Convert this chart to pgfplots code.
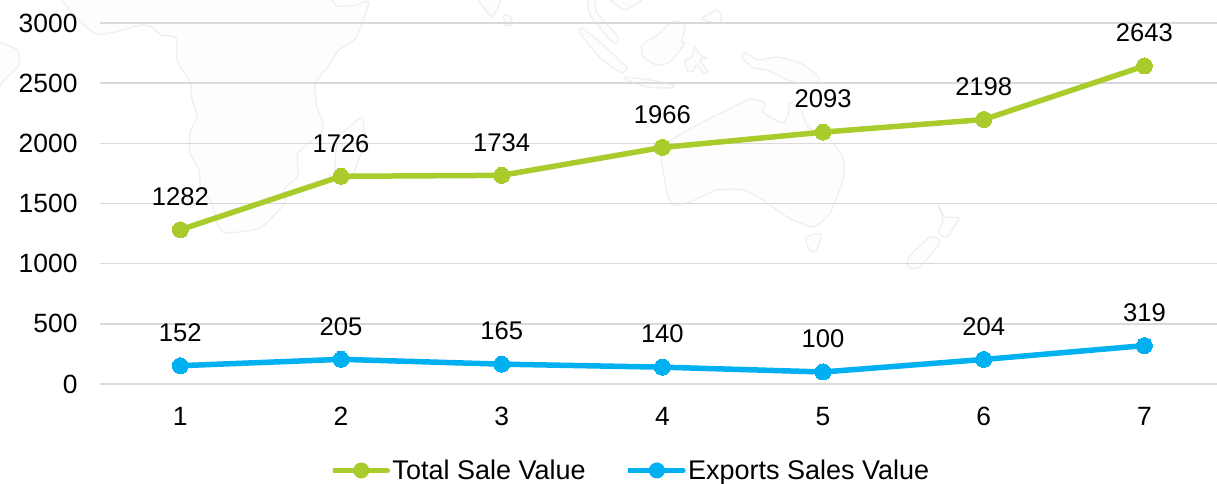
\documentclass[border=0pt]{standalone}
\usepackage{pgfplots}
\pgfplotsset{compat=1.18}
\usepackage{fontspec}
\setmainfont{Liberation Sans}
\definecolor{cgreen}{HTML}{A9CB2C}
\definecolor{cblue}{HTML}{00B0F0}
\definecolor{cgrid}{HTML}{D9D9D9}
\definecolor{mapfill}{HTML}{FDFDFD}
\definecolor{mapline}{HTML}{EFEFEF}
\newcommand{\mapland}[1]{\filldraw[fill=mapfill,draw=mapline,line width=1.3pt,line join=round] plot[smooth cycle,tension=0.35] coordinates {#1};}
\newcommand{\mapopen}[1]{\filldraw[fill=mapfill,draw=mapline,line width=1.3pt,line join=round] plot[smooth,tension=0.35] coordinates {#1};}
\begin{document}
\begin{tikzpicture}[x=1pt,y=1pt]
\path[use as bounding box] (0,0) rectangle (1217,483);
\begin{scope}[yscale=-1,yshift=-483pt]
\clip (0,0) rectangle (1217,483);
\mapopen{(61,0)(82,23)(96,34)(115,32)(142,25)(153,28)(161,35)(176,38)(177,61)(190,82)(192,99)(197,117)(190,132)(190,153)(199,170)(201,191)(211,201)(218,226)(226,233)(260,228)(285,203)(285,188)(298,176)(298,153)(320,134)(323,124)(317,107)(315,84)(329,65)(339,50)(356,38)(369,2)(356,5)(337,6)(333,0)}
\mapland{(362,118)(364,142)(354,172)(342,182)(335,178)(337,140)(346,130)}
\mapopen{(0,42)(17,50)(19,65)(4,80)(0,86)}
\mapopen{(478,0)(492,17)(501,0)}
\mapland{(504,15)(511,17)(512,25)(505,25)}
\mapland{(582,28)(600,42)(627,68)(620,72)(600,58)(580,33)}
\mapopen{(595,0)(597,13)(617,35)(617,43)(610,40)(590,15)(588,0)}
\mapopen{(610,0)(625,10)(642,0)}
\mapland{(625,77)(650,80)(673,85)(672,88)(647,87)(627,80)}
\mapland{(673,21)(685,25)(682,42)(685,43)(670,62)(657,65)(643,57)(642,45)(657,35)}
\mapland{(695,47)(700,55)(707,58)(700,60)(708,72)(703,73)(697,65)(692,72)(687,70)(685,60)(692,57)}
\mapland{(702,18)(717,10)(721,15)(720,24)(707,21)}
\mapland{(745,52)(758,60)(777,57)(800,63)(817,75)(818,82)(800,83)(787,80)(767,70)(753,68)(742,58)}
\mapland{(662,147)(697,125)(727,110)(750,99)(765,103)(763,112)(782,123)(788,115)(790,103)(802,112)(808,127)(830,140)(843,158)(843,180)(830,213)(813,227)(787,217)(763,200)(743,190)(717,190)(690,202)(675,205)(668,197)(663,170)}
\mapland{(806,237)(821,234)(817,250)(812,252)(808,247)}
\mapland{(938,205)(945,217)(959,218)(947,237)(938,232)(943,220)}
\mapland{(930,237)(940,242)(920,267)(910,268)(908,258)}
\end{scope}
\begin{axis}[
  at={(100pt,99pt)}, anchor=south west,
  scale only axis, width=1117pt, height=361pt,
  xmin=0.5, xmax=7.452, ymin=0, ymax=3000,
  xtick={1,2,3,4,5,6,7}, ytick={0,500,1000,1500,2000,2500,3000},
  axis line style={draw=none}, axis x line*=bottom, axis y line*=left,
  major tick length=0pt,
  ymajorgrids, grid style={cgrid,line width=1.5pt},
  tick label style={font=\fontsize{26.4}{30}\selectfont},
  /pgf/number format/assume math mode=true,
  /pgf/number format/1000 sep={},
  x tick label style={yshift=-20pt},
  y tick label style={xshift=-19pt},
  clip=false,
  nodes near coords,
  every node near coord/.style={font=\fontsize{25.6}{30}\selectfont,text=black,anchor=center,yshift=33pt,/pgf/number format/assume math mode=true,/pgf/number format/1000 sep={}},
  legend columns=2,
  legend style={at={(0.2059,-0.2395)},anchor=west,draw=none,fill=none,
    font=\fontsize{27}{27}\selectfont,inner sep=0pt,outer sep=0pt,
    /tikz/every even column/.style={column sep=38pt}},
  legend image code/.code={
    \draw[#1,mark=none,line cap=round] (2.5pt,0pt) -- (54.5pt,0pt);
    \fill[#1,draw=none] (28.5pt,0pt) circle (8pt);
    \path (0pt,0pt) -- (55pt,0pt);
  },
]
\addplot[cgreen,line width=5.5pt,mark=*,mark size=8pt,mark options={fill=cgreen,draw=none,line width=0pt}] coordinates {(1,1282)(2,1726)(3,1734)(4,1966)(5,2093)(6,2198)(7,2643)};
\addlegendentry{Total Sale Value}
\addplot[cblue,line width=5.5pt,mark=*,mark size=8pt,mark options={fill=cblue,draw=none,line width=0pt}] coordinates {(1,152)(2,205)(3,165)(4,140)(5,100)(6,204)(7,319)};
\addlegendentry{Exports Sales Value}
\end{axis}
\end{tikzpicture}
\end{document}
